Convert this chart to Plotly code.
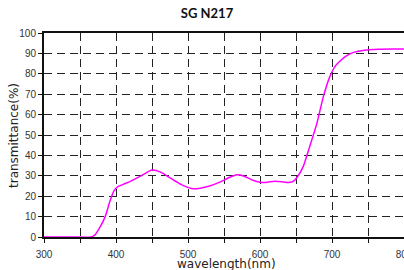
import plotly.graph_objects as go

wavelength = [300, 340, 365, 370, 378, 385, 392, 397, 402, 410, 420, 435, 450, 462, 475, 490, 505, 515,
              530, 545, 558, 568, 578, 590, 600, 610, 620, 630, 640, 647, 653, 660, 669, 679, 688, 697,
              705, 712, 720, 730, 745, 765, 785, 800]
transmittance = [0, 0, 0, 0.8, 5, 10, 18, 22.5, 24.5, 25.8, 27.3, 30, 32.8, 31.8, 29, 25.8, 23.8, 23.8,
                 25, 27, 29.3, 30.5, 29.8, 27.8, 26.8, 26.8, 27.3, 27.1, 26.7, 27.5, 30, 34.5, 44.3, 55.7,
                 68.8, 78.6, 84, 86.5, 88.8, 90.5, 91.6, 92, 92.1, 92.1]

x_ticks = [300, 400, 500, 600, 700, 800]
y_ticks = [0, 10, 20, 30, 40, 50, 60, 70, 80, 90, 100]

W, H = 404, 270
ML, MR, MT, MB = 44, 0, 33, 33
plot_w, plot_h = W - ML - MR, H - MT - MB

fig = go.Figure()
fig.add_trace(go.Scatter(x=wavelength, y=transmittance, mode="lines",
                         line=dict(color="#ff00ff", width=1.5, shape="spline", smoothing=0.6),
                         showlegend=False, hoverinfo="skip"))

fig.update_layout(
    width=W, height=H,
    margin=dict(l=ML, r=MR, t=MT, b=MB, autoexpand=False),
    paper_bgcolor="white", plot_bgcolor="white",
    title=dict(text="<b>SG N217</b>", x=207 / W, xanchor="center", y=1 - 13 / H, yanchor="middle",
               font=dict(family="Lato", size=13, color="#111")),
    font=dict(family="Liberation Sans", size=10, color="#333"),
    annotations=[
        dict(text="wavelength(nm)", xref="paper", yref="paper",
             x=(226 - ML) / plot_w, y=(H - MB - 264) / plot_h, showarrow=False,
             font=dict(family="DejaVu Sans", size=12, color="#222"), xanchor="center", yanchor="middle"),
        dict(text="transmittance(%)", textangle=-90, xref="paper", yref="paper",
             x=(14 - ML) / plot_w, y=(H - MB - 136) / plot_h, showarrow=False,
             font=dict(family="DejaVu Sans", size=12, color="#222"), xanchor="center", yanchor="middle"),
    ],
)

fig.update_xaxes(
    range=[300, 800], tickvals=x_ticks, ticktext=[str(v) for v in x_ticks],
    showgrid=True, gridcolor="#222", gridwidth=1, griddash="8px,5px",
    minor=dict(dtick=50, tick0=300, showgrid=True, gridcolor="#222", griddash="8px,5px",
               ticks="outside", ticklen=4, tickcolor="#111"),
    showline=True, linecolor="#111", linewidth=2, mirror=True,
    ticks="outside", ticklen=4, tickcolor="#111", ticklabelstandoff=3,
    ticklabeloverflow="allow",
    zeroline=False, automargin=False,
)
fig.update_yaxes(
    range=[0, 100], tickvals=y_ticks,
    showgrid=True, gridcolor="#222", gridwidth=1, griddash="8px,5px",
    showline=True, linecolor="#111", linewidth=2,
    ticks="outside", ticklen=4, tickcolor="#111",
    zeroline=False, automargin=False,
)

fig.write_html("out.html", config={"displayModeBar": False},
               post_script="document.body.style.margin='0';document.body.style.overflow='hidden';")
